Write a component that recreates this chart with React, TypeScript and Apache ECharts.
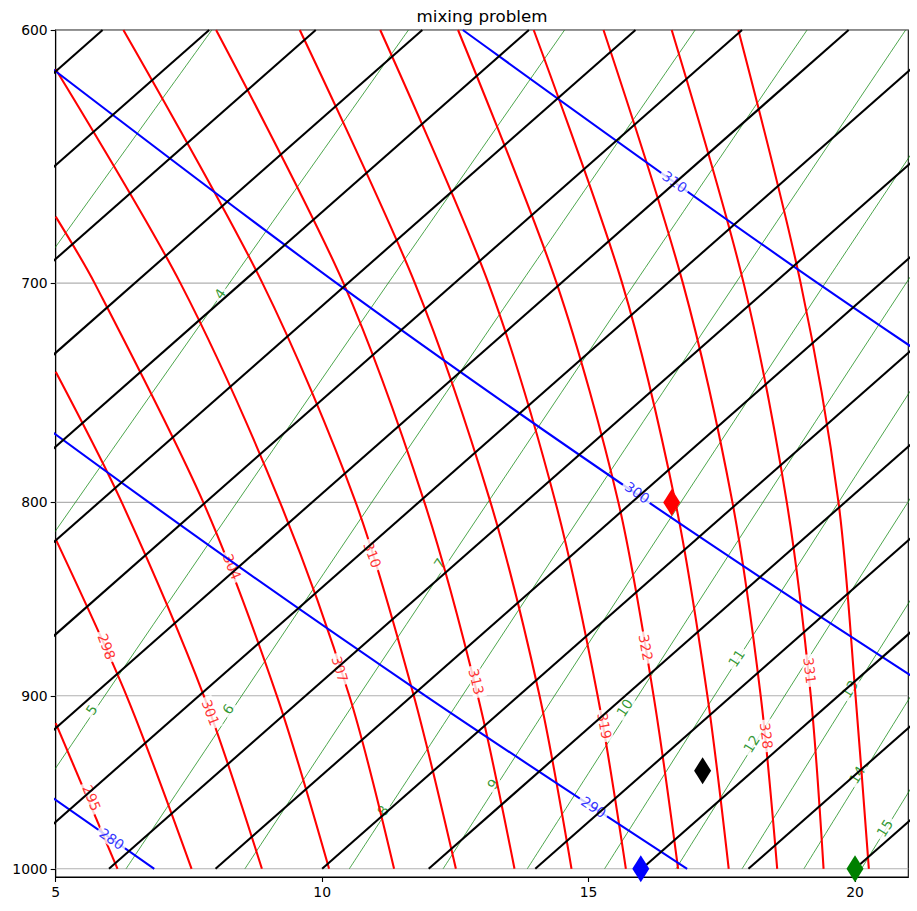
import React, { useEffect, useRef } from "react";
import * as echarts from "echarts";

// ---------- data (x = skewed temperature axis value, p = hPa) ----------
const PRESSURE_LEVELS = [600, 700, 800, 900, 1000];
const GRID_PRESSURES = [600, 700, 800, 900, 1000];
const X_TICKS = [5, 10, 15, 20];

// isotherms (black): axis value where each line meets 600 hPa and 1000 hPa
const ISOTHERM_X_600 = [5.88, 7.88, 9.88, 11.88, 13.88, 15.88, 17.88, 19.88, 21.88, 23.88, 25.88, 27.88, 29.88, 31.88, 33.88, 35.88, 37.88];
const ISOTHERM_X_1000 = [-12, -10, -8, -6, -4, -2, 0, 2, 4, 6, 8, 10, 12, 14, 16, 18, 20];

// dry adiabats (blue), axis value at 600/700/800/900/1000 hPa
const THETA_LEVELS = [280, 290, 300, 310];
const THETA_X = [
  [-13.29, -7.8, -2.63, 2.24, 6.85],
  [-4.65, 1.23, 6.75, 11.94, 16.85],
  [3.99, 10.27, 16.13, 21.64, 26.85],
  [12.64, 19.3, 25.51, 31.35, 36.85],
];

// saturation mixing ratio lines (green), axis value at 600/700/800/900/1000 hPa
const MIXING_LEVELS = [3, 4, 5, 6, 7, 8, 9, 10, 11, 12, 13, 14, 15];
const MIXING_X = [
  [7.93, 4.51, 1.57, -1.0, -3.29],
  [11.62, 8.26, 5.37, 2.85, 0.61],
  [14.55, 11.24, 8.4, 5.92, 3.72],
  [17.0, 13.73, 10.93, 8.49, 6.32],
  [19.1, 15.87, 13.11, 10.69, 8.55],
  [20.95, 17.76, 15.02, 12.63, 10.51],
  [22.61, 19.44, 16.73, 14.36, 12.27],
  [24.1, 20.96, 18.27, 15.93, 13.85],
  [25.47, 22.35, 19.69, 17.36, 15.3],
  [26.73, 23.63, 20.99, 18.68, 16.64],
  [27.89, 24.82, 22.2, 19.91, 17.88],
  [28.98, 25.93, 23.32, 21.05, 19.04],
  [30.0, 26.97, 24.38, 22.12, 20.12],
];

// equivalent potential temperature contours (red)
const THETAE_LEVELS = [295, 298, 301, 304, 307, 310, 313, 316, 319, 322, 325, 328, 331, 334];
const THETAE_X_600 = [null, null, null, null, null, 6.27, 8.01, 9.58, 11.09, 12.55, 13.97, 15.28, 16.56, 17.81];
const THETAE_X_700 = [null, null, null, 5.73, 7.34, 8.88, 10.4, 11.74, 13.12, 14.4, 15.63, 16.77, 17.91, 18.98];
const THETAE_X_800 = [null, null, 6.24, 7.77, 9.21, 10.63, 11.92, 13.16, 14.38, 15.56, 16.63, 17.7, 18.72, 19.69];
const THETAE_X_900 = [null, 6.33, 7.78, 9.15, 10.51, 11.72, 12.92, 14.08, 15.17, 16.22, 17.23, 18.23, 19.17, 20.01];
const THETAE_X_1000 = [6.16, 7.55, 8.87, 10.13, 11.35, 12.51, 13.61, 14.68, 15.7, 16.68, 17.63, 18.54, 19.41, 20.26];
// pressure where a contour leaves through the left edge (x = 5)
const THETAE_EDGE_P = [915.1, 818.1, 738.8, 672.2, 614.5, null, null, null, null, null, null, null, null, null];

// the four parcels
const MARKER_X = [16.56, 17.14, 15.98, 20.0];
const MARKER_P = [800, 942, 1000, 1000];

// inline contour label placement: [text, x, p, angle]
const THETAE_LABELS: [string, number, number, number][] = [
  ["295", 5.675, 957.8, -68], ["298", 5.956, 873.4, -69], ["301", 7.906, 909.2, -69],
  ["304", 8.311, 831.9, -68], ["307", 10.331, 885.5, -73], ["310", 10.944, 826.0, -69],
  ["313", 12.894, 892.2, -76], ["319", 15.3, 916.6, -80], ["322", 16.074, 873.9, -80],
  ["328", 18.338, 922.2, -83], ["331", 19.15, 886.2, -83],
];
const THETA_LABELS: [string, number, number, number][] = [
  ["280", 6.05, 982.0, -35], ["290", 15.094, 963.1, -33.5], ["300", 15.913, 795.2, -35], ["310", 16.618, 658.1, -35.5],
];
const MIXING_LABELS: [string, number, number, number][] = [
  ["4", 8.081, 704.6, 55], ["5", 5.675, 907.7, 56], ["6", 8.236, 907.3, 56], ["7", 12.206, 830.2, 56],
  ["8", 11.143, 965.1, 57], ["9", 13.205, 949.7, 57], ["10", 15.675, 906.6, 57], ["11", 17.775, 879.6, 57],
  ["12", 18.056, 926.7, 58], ["13", 19.9, 896.3, 58], ["14", 20.039, 944.4, 58], ["15", 20.556, 975.5, 58],
];

// ---------- styles ----------
const FONT = "DejaVu Sans";
const RED = "#ff0000";
const BLUE = "#0000ff";
const GREEN = "#008000";
const MARKER_COLORS = ["#ff0000", "#000000", "#0000ff", "#008000"];
const THICK = 2.08;

function line(name: string, data: number[][], color: string, width: number, z: number, smooth: number | boolean) {
  return {
    type: "line",
    name,
    data,
    symbol: "none",
    showSymbol: false,
    smooth,
    clip: true,
    silent: true,
    z,
    lineStyle: { color, width, opacity: 1 },
  };
}

function labels(name: string, items: [string, number, number, number][], color: string, z: number) {
  return {
    type: "scatter",
    name,
    z,
    silent: true,
    symbol: "circle",
    symbolSize: 1,
    itemStyle: { color: "rgba(0,0,0,0)" },
    data: items.map(([t, x, p, a]) => ({ name: t, value: [x, p], label: { rotate: a } })),
    label: {
      show: true,
      position: "inside",
      formatter: "{b}",
      color,
      fontSize: 13.9,
      fontFamily: FONT,
      backgroundColor: "#ffffff",
      padding: [0, 3],
    },
  };
}

export default function App() {
  const ref = useRef<HTMLDivElement>(null);
  useEffect(() => {
    if (!ref.current) return;
    const chart = echarts.init(ref.current, undefined, { renderer: "svg" });
    const series: any[] = [];

    GRID_PRESSURES.forEach((p) =>
      series.push(line("grid" + p, [[5, p], [21, p]], "#b0b0b0", 1.1, 1, false))
    );
    MIXING_LEVELS.forEach((w, i) =>
      series.push(line("w" + w, PRESSURE_LEVELS.map((p, j) => [MIXING_X[i][j], p]), GREEN, 0.7, 2, 0.3))
    );
    series.push(labels("mixing labels", MIXING_LABELS, GREEN, 3));
    THETAE_LEVELS.forEach((te, i) => {
      const pts: number[][] = [];
      if (THETAE_EDGE_P[i] !== null) pts.push([5, THETAE_EDGE_P[i] as number]);
      const cols = [THETAE_X_600, THETAE_X_700, THETAE_X_800, THETAE_X_900, THETAE_X_1000];
      PRESSURE_LEVELS.forEach((p, j) => {
        const v = cols[j][i];
        if (v !== null) pts.push([v as number, p]);
      });
      series.push(line("thetae" + te, pts, RED, THICK, 4, 0.3));
    });
    series.push(labels("thetae labels", THETAE_LABELS, RED, 5));
    THETA_LEVELS.forEach((th, i) =>
      series.push(line("theta" + th, PRESSURE_LEVELS.map((p, j) => [THETA_X[i][j], p]), BLUE, THICK, 6, 0.3))
    );
    series.push(labels("theta labels", THETA_LABELS, BLUE, 7));
    ISOTHERM_X_600.forEach((x6, i) =>
      series.push(line("T" + i, [[x6, 600], [ISOTHERM_X_1000[i], 1000]], "#000000", THICK, 8, false))
    );
    series.push({
      type: "scatter",
      name: "parcels",
      z: 10,
      silent: true,
      symbol: "diamond",
      symbolSize: [17, 27],
      data: MARKER_X.map((x, i) => ({ value: [x, MARKER_P[i]], itemStyle: { color: MARKER_COLORS[i], opacity: 1 } })),
    });

    chart.setOption({
      animation: false,
      backgroundColor: "#ffffff",
      grid: { left: 55.7, top: 30, right: 8.7, bottom: 34, show: true, borderColor: "#000", borderWidth: 1.1, backgroundColor: "transparent" },
      graphic: [
        {
          type: "text",
          x: 482,
          y: 16,
          z: 20,
          style: { text: "mixing problem", fontSize: 16.7, fontFamily: FONT, fill: "#000", textAlign: "center", textVerticalAlign: "middle", align: "center", verticalAlign: "middle" },
        },
      ],
      xAxis: [
        {
          type: "value",
          min: 5,
          max: 21,
          position: "bottom",
          axisLine: { show: true, onZero: false, lineStyle: { color: "#000", width: 1.1 } },
          axisTick: { show: true, length: 5, lineStyle: { color: "#000", width: 1.1 }, customValues: X_TICKS },
          axisLabel: { customValues: X_TICKS, color: "#000", fontSize: 13.9, fontFamily: FONT, margin: 8 },
          splitLine: { show: false },
        },
      ],
      yAxis: [
        {
          type: "log",
          logBase: 10,
          min: 600,
          max: 1005,
          inverse: true,
          axisLine: { show: true, onZero: false, lineStyle: { color: "#000", width: 1.1 } },
          axisTick: { show: true, length: 5, lineStyle: { color: "#000", width: 1.1 }, customValues: GRID_PRESSURES },
          axisLabel: { customValues: GRID_PRESSURES, color: "#000", fontSize: 13.9, fontFamily: FONT, margin: 8, formatter: (v: number) => String(Math.round(v)) },
          splitLine: { show: false },
          minorSplitLine: { show: false },
        },
      ],
      series,
    });
    return () => chart.dispose();
  }, []);
  return <div ref={ref} style={{ position: "absolute", left: 0, top: 0, width: 917, height: 911 }} />;
}
